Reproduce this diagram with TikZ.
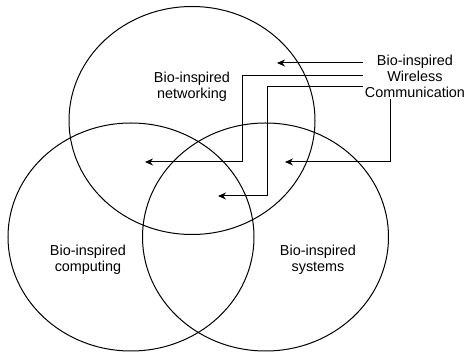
\documentclass[tikz,border=0pt]{standalone}
\usepackage{fontspec}
\setmainfont{Liberation Sans}
\usetikzlibrary{shapes.geometric,arrows.meta}
\begin{document}
\begin{tikzpicture}[x=1pt,y=-1pt,
 venn/.style={ellipse,draw,line width=1pt,inner sep=0pt,minimum width=246pt,minimum height=228pt},
 lbl/.style={align=center,font=\fontsize{14.4}{16}\selectfont,inner sep=2pt},
 conn/.style={draw,line width=1pt,-{Stealth[length=8pt,width=7pt]}}]
\useasboundingbox (0,0) rectangle (466,352);
\node[venn] (net) at (192,120.5) {};
\node[venn] (comp) at (131,237) {};
\node[venn] (sys) at (265.5,237) {};
\node[lbl] (netl) at (192,87) {Bio-inspired\\networking};
\node[lbl] (compl) at (88,260) {Bio-inspired\\computing};
\node[lbl] (sysl) at (318,260) {Bio-inspired\\systems};
\node[lbl] (wc) at (415,76) {Bio-inspired\\Wireless\\Communication};
\coordinate (t1) at (277,63);
\coordinate (b2) at (242,162);
\coordinate (t2) at (145,162);
\coordinate (b3) at (267,196);
\coordinate (t3) at (218,196);
\coordinate (t4) at (285,162);
\draw[conn] ([yshift=13pt]wc.west) -- (t1);
\draw[conn] (wc.west) -| (b2) -- (t2);
\draw[conn] ([yshift=-11pt]wc.west) -| (b3) -- (t3);
\draw[conn] ([xshift=-25pt]wc.south) |- (t4);
\end{tikzpicture}
\end{document}
